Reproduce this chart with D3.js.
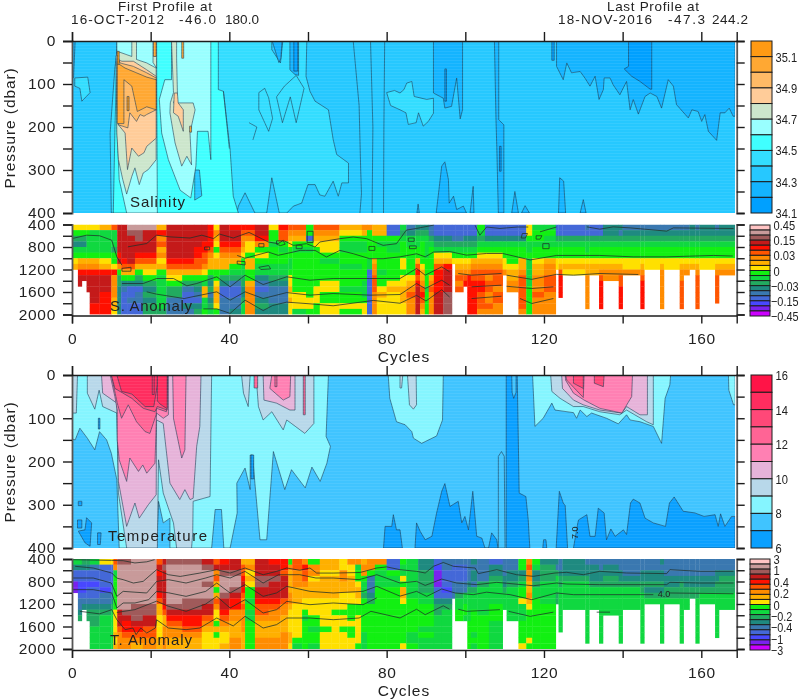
<!DOCTYPE html>
<html><head><meta charset="utf-8">
<script src="https://cdn.jsdelivr.net/npm/d3@7/dist/d3.min.js"></script>
<style>html,body{margin:0;background:#fff}svg{display:block;filter:blur(.35px)}text{font-family:"Liberation Sans",sans-serif;fill:#222}</style>
</head><body><svg id="c" width="800" height="700"></svg>
<script>
// ---- colour legends
const salColors=["#ff9a14","#ffa833","#ffba66","#ffcc99","#cce6cc","#99ffff","#40ffff","#33ddff","#26c8ff","#14b4ff","#00a0ff"];
const salLabels=[["35.1",1],["34.9",3],["34.7",5],["34.5",7],["34.3",9],["34.1",11]];
const tempColors=["#ff1447","#ff2d5f","#ff4878","#ff6495","#ff80b3","#e6b3d9","#b8d8ea","#85f5ff","#40c4ff","#0aa0ff"];
const tempLabels=[["16",0],["14",2],["12",4],["10",6],["8",8],["6",10]];
const anomColors=["#ffc4c4","#c89a9a","#a05a5a","#c41a1a","#ff1000","#ff5500","#ff8c00","#ffb000","#ffe000","#12f012","#10d840","#22aa60","#1f8a80","#3a78b0","#4468d8","#4848ff","#7a22ee","#cc00ff"];
const saLabels=[["0.45",0],["0.15",3],["0.03",6],["0",9],["\u22120.03",12],["\u22120.15",15],["\u22120.45",18]];
const taLabels=[["3",0],["1",2.25],["0.4",4.5],["0.2",6.75],["0",9],["\u22120.2",11.25],["\u22120.4",13.5],["\u22121",15.75],["\u22123",18]];

// ---- salinity contour regions: [colour index, [cycle, dbar] ...]
const salRegions=[
[7,[[11.5,0],[50.8,0],[50.8,20],[53,51],[53.6,0],[59.7,0],[59.5,82],[60.5,117],[61.8,140],[65.2,160],[66.4,229],[67.3,264],[70.3,284],[70.3,330],[68.6,330],[67.7,361],[66.4,326],[64.3,361],[63,358],[61.8,334],[60,334],[58.4,377],[56.3,384],[54.6,400],[52.7,400],[50.8,318],[49.5,400],[46.5,400],[44,353],[42.3,384],[41.9,400],[38.5,400],[37.6,377],[37.2,400],[10,400],[9.7,214],[10.9,63],[11.4,28]]],
[7,[[0.7,86],[4,84],[4.6,120],[2.5,140],[2,110],[0.7,105]]],
[7,[[83.4,121],[84.4,113],[85.1,98],[86.4,94],[87,129],[90.2,136],[91.9,133],[91.9,168],[90.6,187],[89.3,198],[88.1,167],[87.5,190],[85.5,194],[84.9,167],[83.4,160],[81,150],[80,120],[82,115]]],
[7,[[47.5,120],[49,110],[50,132],[51,180],[50,210],[49,190],[47.5,160]]],
[7,[[52,130],[53.5,190],[55.5,130],[57,190],[59,110],[57,80],[54,105]]],
[6,[[11.5,0],[37.2,0],[37.2,113],[38.5,117],[40.2,253],[41,361],[42.3,400],[10.5,400],[10.9,214]]],
[8,[[31.2,300],[32.4,300],[33,360],[31.2,370]]],
[5,[[11.4,0],[21.5,0],[21.7,400],[13.9,400],[12,322],[11.5,214]]],
[5,[[25.3,0],[35.3,0],[35.3,276],[34.6,210],[31.9,210],[31.5,291],[30.2,365],[27.5,347],[24.5,276],[22.8,214],[22.2,136],[23.6,90],[25.3,90]]],
[4,[[15.2,0],[16.4,0],[16.4,43],[19,51],[21.4,63],[21.4,276],[19.4,299],[18.1,307],[17.1,334],[16,295],[15.2,315],[13.9,356],[12.9,322],[11.8,276],[11.4,214],[11.2,36],[11.5,24],[15.2,36]]],
[4,[[20.6,0],[21.5,0],[21.5,63],[20.6,50]]],
[4,[[25.3,0],[26.6,0],[26.6,40],[26.8,121],[25.8,144],[30.8,144],[31.3,160],[30,214],[30.4,288],[29.2,268],[27.9,291],[26.2,237],[24.9,167],[25,144],[25.8,120]]],
[3,[[11.5,43],[12.7,47],[15.6,47],[19,67],[21.4,82],[21.4,226],[19,245],[18.3,260],[16.9,268],[15.2,249],[14.1,299],[13.5,214],[11.8,195],[11.4,136]]],
[3,[[26,121],[26.8,121],[27,144],[28.3,160],[28.3,210],[27,175],[25.8,167]]],
[2,[[11.5,32],[12.2,51],[15.6,59],[19,74],[21.4,86],[21.4,160],[19,171],[18.3,175],[17.3,171],[16.4,187],[14.7,167],[14.2,202],[11.8,195]]],
[1,[[11.5,51],[13.5,63],[19,84],[21.4,90],[21.4,160],[19,153],[16.6,164],[15.2,105],[13.2,90],[13.2,192],[11.5,192]]],
[1,[[27.9,0],[28.4,0],[28.4,40],[27.9,40]]],[1,[[20.7,0],[21.4,0],[21.4,36],[20.7,36]]],
[1,[[29.9,198],[30.4,198],[30.4,212],[29.9,212]]],
[0,[[14,129],[14.5,129],[14.5,162],[14,162]]],[0,[[11.5,24],[12,24],[12,54],[11.5,54]]],
[9,[[55.4,0],[57.6,0],[57.6,80],[56.7,78],[55.4,67]]],
[10,[[56.4,0],[57.4,0],[57.4,70],[56.4,70]]],
[9,[[50.9,0],[53.4,0],[53.1,40],[52.6,50]]],
[9,[[0,0],[0.8,0],[0.4,85],[0,85]]],
[9,[[123.2,0],[123.2,59],[124.9,90],[125.8,51],[127,74],[129.2,71],[130.4,86],[131.7,105],[133,82],[134,136],[135.1,113],[135.3,86],[136.8,86],[137.6,102],[139.3,125],[141,94],[141.9,160],[142.7,136],[144,170],[145.7,129],[147,121],[148.7,129],[149.9,156],[151.6,90],[152.9,105],[153.7,148],[156.7,179],[157.6,160],[159.2,164],[160.1,187],[160.9,171],[161.8,210],[163.9,231],[164.8,167],[166,167],[167.1,156],[168.1,175],[168.6,175],[168.6,0]]],
[10,[[141.5,0],[141.5,59],[140.4,65],[142.3,82],[144.4,94],[147,112],[147.4,112],[147.4,0]]],
[10,[[122,0],[122.6,0],[122.6,45],[122,45]]],
[9,[[91.9,0],[91.9,121],[94.4,133],[94.8,156],[96.5,152],[97.8,86],[98.7,181],[99.3,160],[99.3,0]]],
[10,[[94.8,65],[95.2,65],[95.2,140],[94.8,140]]],
[9,[[107.4,0],[107.8,183],[108,245],[108.4,400],[109.8,400],[109.8,195],[108.5,183],[108.5,0]]],
[10,[[108.7,245],[109.1,245],[109.1,303],[108.7,303]]],
[9,[[92.6,400],[93.4,338],[94,291],[94.8,281],[95.7,322],[95.9,377],[97,361],[97.8,392],[99.5,384],[100.3,400]]],
[9,[[87.7,400],[88,379],[88.3,400]]],[9,[[101.2,400],[102,338],[102.2,400]]],
[9,[[111.8,400],[112.6,350],[113.5,400]]],[9,[[114.3,400],[115.2,383],[116.3,400]]],
[9,[[123.7,400],[124,318],[125,326],[125.5,400]]],[9,[[129.2,400],[130,369],[130.7,400]]]
];
const salLines=[
[[71.5,0],[73,150],[73.4,300],[73.6,355],[73.2,400]],
[[75.9,0],[76.5,200],[76.3,400]],
[[79.5,0],[79.3,200],[79.2,400]],
[[38.5,117],[40,250]],[[45,190],[47,200],[46,230]]
];

// ---- temperature contour regions
const tempRegions=[
[7,[[0,0],[65.2,0],[64.6,142],[65.7,165],[64.8,204],[63.1,246],[61,213],[59.3,261],[55.8,219],[54.1,265],[51.2,177],[49.5,381],[47.8,381],[46.5,250],[45.9,185],[45.3,185],[45.3,265],[44,215],[41.9,250],[42,319],[40.2,400],[38.6,400],[38,311],[36.4,311],[35.5,400],[24.9,400],[24.9,331],[23.2,342],[22,292],[21.5,400],[12,400],[11.4,242],[10,181],[8.8,150],[7,131],[5.8,173],[3.9,146],[2,123],[0.8,150],[0,148]]],
[7,[[80.4,0],[80.8,54],[82.5,108],[83.4,111],[84.7,115],[86.4,131],[86.8,146],[88.9,158],[92.7,141],[94.2,104],[94.4,0]]],
[7,[[117.1,0],[117.7,119],[119.8,100],[122,65],[122.8,81],[127.5,87],[128.3,100],[129.2,81],[130.9,96],[132.1,88],[135.9,100],[138.9,113],[141,92],[141.9,104],[144.4,108],[147.8,119],[149.9,158],[150.8,54],[152,23],[152.2,0]]],
[7,[[166.9,0],[167,35],[168.2,69],[168.6,69],[168.6,0]]],
[6,[[0,0],[1.4,0],[1.1,88],[0,88]]],
[6,[[3.9,0],[35.5,0],[35.1,281],[30.8,292],[30.7,365],[30.4,400],[26.6,400],[25.8,342],[23.2,273],[22,196],[21.7,400],[13.9,400],[11.8,273],[11.4,88],[7.8,73],[6.9,35],[5.8,79],[3.9,42]]],
[6,[[43.1,0],[43.6,42],[44.8,73],[45.3,0]]],
[6,[[46.8,0],[47.4,73],[48.6,104],[50.8,85],[53.7,127],[54.6,104],[58,127],[59.2,135],[61.5,112],[61.5,0]]],
[6,[[85.3,0],[87.5,0],[87.6,69],[86.8,79],[85.8,69]]],[6,[[83.4,0],[84.1,0],[83.8,30],[83.4,30]]],
[6,[[121.7,0],[122,38],[124.1,54],[127.5,73],[130,73],[134.2,85],[139.3,92],[141,81],[146.1,108],[147.8,115],[147.8,0]]],
[5,[[7.5,0],[7.8,42],[11.4,65],[11.8,246],[13.9,350],[16,296],[17.1,331],[19.4,300],[21.4,277],[21.5,104],[23.2,112],[24.9,250],[27.4,288],[28.7,265],[30,288],[30.8,285],[31.7,165],[32.5,119],[32.8,0]]],
[5,[[48.6,0],[48.8,58],[52,65],[55.4,81],[56.7,81],[56.7,0]]],
[5,[[124.5,0],[124.7,31],[127.5,58],[130,69],[134.2,81],[139.8,88],[141,73],[144.4,92],[146.3,92],[146.3,0]]],
[4,[[9.7,0],[10.9,50],[11.5,81],[11.5,150],[12,196],[13.9,246],[14.7,192],[16.9,223],[18,208],[19,227],[21.1,204],[21.5,88],[23.2,100],[24.5,92],[24.5,0]]],
[4,[[25.6,0],[25.8,100],[27.9,192],[28.7,173],[29,0]]],
[4,[[50.8,0],[50.3,31],[53.7,58],[55.4,50],[55.6,0]]],
[4,[[125.4,0],[125.5,12],[127.5,42],[130.2,58],[134.2,77],[139.8,88],[142.3,50],[142.5,0]]],
[3,[[10,0],[11.5,65],[12.6,100],[14.3,69],[16.4,108],[18.6,131],[19.8,135],[21.4,92],[21.5,77],[24,85],[24.3,0]]],
[3,[[125.5,0],[125.8,12],[130,52],[130.2,0]]],
[3,[[46.3,0],[47.2,0],[47.2,30],[46.3,30]]],[3,[[51.6,0],[52.1,0],[52.1,27],[51.6,27]]],[3,[[58.8,0],[59.3,0],[59.3,92],[58.8,92]]],
[2,[[10,0],[10.9,31],[15.2,54],[18.1,77],[21.1,85],[21.7,73],[24.2,81],[24.3,0]]],
[2,[[127.5,0],[127.5,19],[130,31],[130,0]]],[2,[[132.8,0],[132.8,19],[135.1,27],[135.3,0]]],
[1,[[11.4,0],[12.6,38],[15.2,44],[18.6,73],[20.8,73],[21.7,23],[21.7,0]]],
[1,[[21.7,0],[24.2,0],[24.2,78],[22.5,68],[21.7,60]]],
[1,[[20.4,0],[20.9,0],[20.9,45],[20.4,45]]],
[9,[[110.4,0],[110.4,400],[116.4,400],[116,335],[115.4,281],[113.7,273],[113.2,0]]],
[8,[[111.8,0],[111.9,40],[112.3,54],[112.9,40],[112.9,0]]],
[9,[[87.2,400],[87.6,342],[88.5,361],[89.8,381],[91.5,373],[92.7,319],[94,269],[94.8,251],[96.1,304],[98.2,292],[99.1,342],[99.9,327],[100.8,358],[101.9,269],[102.9,373],[104.2,377],[105,400],[105.9,400],[106.7,365],[108,381],[108.3,400]]],
[8,[[108.4,400],[108.4,188],[109.2,177],[109.9,188],[110.1,400]]],
[9,[[119.7,400],[119.9,381],[120.5,381],[120.7,400]]],
[9,[[123.1,400],[123.9,269],[124.9,296],[125.4,302],[126,400]]],
[9,[[127.5,400],[128.6,342],[128.8,335],[130.9,323],[131.7,373],[133,373],[133.8,308],[135.3,319],[135.9,381],[137,356],[138.1,373],[140.2,358],[141,369],[142,296],[142.7,287],[144.4,296],[145.7,331],[147.8,342],[150.9,350],[151.9,296],[153.1,282],[155.4,315],[158.4,319],[160.7,327],[163.5,323],[164.3,350],[164.9,321],[166,350],[167.7,327],[168.6,327],[168.6,400]]],
[9,[[79.2,400],[79.6,350],[81.3,350],[81.7,323],[82.5,358],[83.4,358],[84,400]]],
[9,[[1.4,335],[2.5,335],[2.5,354],[1.4,354]]],
[9,[[3.7,330],[5,342],[4.6,396],[3.3,388],[1.6,361],[3.3,358]]],
[9,[[6.5,365],[7.4,365],[7.2,392],[6.5,392]]],
[9,[[1.6,292],[2.5,292],[2.5,302],[1.6,302]]],
[9,[[6.7,100],[7.1,100],[7.1,125],[6.7,125]]],[9,[[45.5,185],[46.2,185],[46.2,240],[45.5,240]]]
];

// ---- anomaly columns: [start cycle, profile from 400 dbar downward, one letter per 100 dbar; index into anomColors]
const saColumns=[
[0,"ijlmkjih"],[1.5,"ijlmkjhgedd"],[2.5,"ijlmkjhged"],[3.7,"ijkkkjhgeddd"],[4.5,"ikkkkjhgedddddee"],[7,"hkkkkjihedddeeee"],[10,"fkkkljjiegggghhi"],
[11.5,"dddddedgjllmmmmm"],[12.5,"ddddddefhjmnoooo"],[14,"bcdddddfhjmoonoo"],[16,"bccddefhjlmonnoo"],[18,"bddddefhijlmlmll"],[21.5,"hegfhgihjkkkkkkl"],
[24,"ddddddefhijllnnn"],[28,"ddddddefhjlnoomn"],[31,"ddddeeffhjlmnoml"],[33,"dddeeffgijkhhkkj"],[34.5,"eeeefghhjlmlnmlk"],[36,"ighijihhjjihhhij"],
[37.5,"dddefghhjlmoonnn"],[40,"eddefghjklnoonnm"],[43,"efgghijkkllmmlkk"],[44,"efgiijhhjjhggggg"],[46.5,"ddegjijkkmnonmlm"],[50,"ijjkjjjkklmnnnmm"],[52.5,"effjkjjkklmnnnmm"],
[55,"fghijjkkjiihihii"],[56,"fghjkjjjjjjjiiik"],[59.5,"jjojkjjjjjjjjiij"],[61.4,"fghijjjjjjjiiijj"],[63,"fghiijkjjjiijjii"],[68,"hijkkjjkjjjkjjij"],[73.7,"ghjkkjjjjjkkkjii"],
[75,"gjjjjjkkoooooooo"],[76.3,"hhjjjjhggfffgggg"],[77.5,"hhjkjjjjkjjihiii"],[80,"oojkkjjjjjihiiii"],[83.4,"klkjjjiijiihhhii"],[85,"nmkkjjjjjihgfggg"],[87.3,"mlkkjjhfefeddddd"],[88.5,"mlkjjjjihhgfefgh"],[89.7,"mlkkkkjjjjjkjjjj"],[90.7,"nnlkjjjjjhgfgggg"],
[92,"oomlkihfeeeedddd"],[94.4,"oomlkiheddddcccc"],[96.6,"oonlkji"],[97.4,"oonlkjihgfgf"],[99.5,"oomlkjihgfe"],[100.5,"oomlkjihgeeeeeee"],[101.4,"oomlkjhgffeeeeee"],[103,"jklkjihgffeefffg"],[105,"oomkjihgfgffggfg"],[107,"oomkjihgfffgffgg"],
[109.5,"oomkjjiig"],[110.5,"oomkjjjihhgg"],[113.5,"oomkjjhhgffffffg"],[115.5,"iijkkjkkkkkjjjjj"],[117,"kjjkjjihhgggfggg"],[120,"kjkkjjhggfffgggg"],[123,"oolkjjii"],[123.7,"oolkjjihfeeee"],[124.7,"oolkjjihi"],[130.5,"nolkkjihhgggggg"],[131.5,"oolkjjihh"],
[134,"oolkjjihgfeeeee"],[135,"mmlkjjihgg"],[139,"mnlkjjihgffeeee"],[140,"nmlkjjiig"],[144.5,"nmlkjjihgfeeeee"],[145.5,"nmlkjjii"],[149.5,"nmlkjjihggggggg"],[150.5,"nmlkjjii"],[154.5,"nmlkjjihggfffff"],[155.5,"nmlkjjihg"],[157,"mmlkjjih"],[158.5,"nmlkjjihgffffff"],[159.5,"mmlkjjii"],[163.5,"nmlkjjihgfffff"],[164.5,"mmlkjjihg"]
];
const taColumns=[
[0,"kmooqq"],[1.5,"kmoopponnml"],[2.5,"lmoopponm"],[3.7,"lmoopoonmll"],[4.5,"knoopoonmlllkkkk"],[7,"ioooopnnmlkkkkkk"],[10,"ioooonnmlkkkkkkk"],[10.5,"fgkjjjjjjiiiihih"],
[11.5,"cbbbbbbbbdddfggg"],[12.7,"cbbbbbbbbcdeefgg"],[15,"bbbbbbbbcccdefgh"],[18,"bbbbbbbbccddffgg"],[21.5,"fdedddefhhiiiihh"],[23,"dcddddddefhhgggg"],
[24,"cbbbbbbbcdefgghh"],[28,"cbbbbbbccdeefghh"],[33,"dcbbcbbcddfghiii"],[36,"fdgfhjhfgiijhjii"],[37.5,"edcbbbcddefghiih"],[40,"ddcbbcdeegghhhgg"],[43,"hffedefgfgggghhh"],[44,"hgihijjkjkkjjjjj"],
[46.5,"dddccddeffghhhgg"],[50,"eddcdddefgghhhgg"],[53,"eefddddfgghhhggg"],[55,"jghhhhgghiiiihhi"],[56,"ffggghhhiiiiiijk"],[58.5,"geffghhiijkjjjjj"],[60,"jggihhhiiijjkjjk"],[63,"hhihhhhiiiiijiii"],[66,"hhihhhhiijiiiiii"],[68,"iigghhiiijiijiii"],[70,"giihhhiijjjijjii"],[72,"gkjjihhijjiiiiij"],[73.5,"hggjkkljjjjjjkkk"],[75,"ggjnnnmljjjjjjjj"],[77,"gjkkkjjjjjjjjjjj"],[80,"oojkkjjjjjjjjjjj"],
[83.4,"jkkijhhijjjjjjji"],[85,"kkkkkkkjjjjjjkkj"],[88,"mmllllkkjjjjkjkk"],[92,"opqqqoomllkkkkkk"],[94,"nnooopomlkkkkkkk"],[96.6,"nooonnn"],[97.4,"nooonnlkkjj"],[99.5,"nooonnkkjjk"],[100.5,"nnnnmlkkkkkjjjjj"],[101.4,"mnmmnlkkkjjjjkjk"],[103,"nnnnlkkkkkjjjjjj"],[106,"ommlkkkkjjjkkkkk"],
[109.5,"nnnmmlkkk"],[110.5,"nnmmlkkkkkk"],[113.5,"jjmlkjjikkkjjjji"],[115.5,"gfgghhghijjjjjij"],[117,"jkmmlkkjjjjjjjjj"],[119,"mlllkkkkjjjjjjjj"],[123,"mnlkkkll"],[123.7,"nnmllkkkkkkkk"],[124.7,"mmmlkkkkk"],[130.5,"nmmlkkkkkkkkkkk"],[131.5,"nmmmlkkkk"],
[134,"nnmmlkkkkkkkkkk"],[135,"nmmllkkkkk"],[139,"nnmmlkkkkkkkkkk"],[140,"nnnmlkkkk"],[144.5,"nnmmllkkkkkkkkk"],[145.5,"nnmmlmlk"],[149.5,"mnmmlmlkkkkkkkk"],[150.5,"nnnmmllk"],[154.5,"nnnmlllkkkkkkkk"],[155.5,"nnnmmllkk"],[157,"nnnmmll"],[158.5,"nnnmmllkkkkkkkk"],[159.5,"nnnmmlkk"],[163.5,"nnmmllkkkkkkkk"],[164.5,"nnmlllkkk"]
];

// ---- contour lines over the anomaly panels
const saLines=[
[[0,650],[3.7,590],[7,600],[10.1,679],[11.4,975],[12.7,1123]],
[[14.2,797],[19,738],[21.5,590],[24.9,620],[30,640],[33,590],[36,650],[37.5,570],[41,640],[45,540],[49.9,711]],
[[49.9,711],[52.4,741],[53.7,682],[56.3,771],[59.6,741],[61.8,800],[63,711],[68.1,652],[71.5,622],[74.9,652],[79.1,771],[82.5,741],[85,500],[87.6,470],[92,410]],
[[42,950],[44,1000],[49.9,889],[52.4,948],[56.3,889],[58,860],[59.4,860],[61.8,860],[64.7,978],[68.1,860],[71.5,919],[75.7,1008],[79.1,1008],[83.4,975],[87.6,920],[89.8,975],[91.9,890],[96,880],[100.3,945],[105.4,915],[109.5,915],[116.5,1030],[123.2,950],[134.2,950],[142.7,975],[151.2,975],[163.1,950],[168,960]],
[[12.7,1449],[18.1,1449],[21.5,1360],[25.8,1360],[29.2,1490],[31.7,1449],[36.8,1330],[40.2,1508],[44,1301],[48.6,1467],[52,1390],[54.6,1330],[60.5,1390],[66.4,1360],[75.7,1360],[83.4,1360],[87.6,1182],[89.8,1301],[94,1153],[96,1241]],
[[98.2,1271],[101.6,1301],[109.2,1271]],[[110.5,1301],[116.9,1375],[123.2,1286],[127.5,1301],[134.2,1271],[144,1289]],
[[19,1597],[21.5,1638],[28.5,1716],[36.8,1597],[40.2,1745],[44,1597],[48.6,1716],[54.6,1610],[60.5,1656],[66.4,1627],[75.7,1656],[83.4,1645],[87.6,1449],[89.8,1538],[94,1390],[96,1479]],
[[101.6,1508],[109.2,1479]],[[110.5,1498],[116.9,1538],[122.4,1508]],
[[33.4,1900],[36.8,1900],[40.2,1980],[44,1745],[48.6,1930],[51,1840],[54.6,1780],[60.5,1810],[66.4,1845],[76.6,1750],[83.4,1800],[87.6,1660],[90,1760],[94,1560],[96,1690]],
[[101.6,1716],[109.2,1675]],[[113.9,1716],[116.9,1805],[122.4,1716]],
[[130.9,442],[134.2,483],[137.6,442],[141.9,460],[151.2,518],[152.9,460],[168.2,471]],
[[102.5,415],[103.7,590],[105.4,445],[108.8,470],[113.3,445],[116,445]],[[119,530],[123.2,445]],
[[52,690],[53.7,690],[54.2,750],[53,775],[52,750],[52,690]],[[47.5,740],[48.8,740],[48.8,800],[47.5,800],[47.5,740]],
[[57,770],[58.5,770],[58.5,830],[57,830],[57,770]],[[75.5,790],[77,790],[77,860],[75.5,860],[75.5,790]],
[[59.8,520],[61.3,520],[61.3,720],[59.8,720],[59.8,520]],[[85.5,640],[87,640],[87,700],[85.5,700],[85.5,640]],
[[85.8,780],[87.5,780],[87.5,830],[85.8,830],[85.8,780]],[[114.5,560],[115.8,560],[115.3,640],[114.2,640],[114.5,560]],
[[119.7,740],[121.3,740],[121.3,830],[119.7,830],[119.7,740]],[[118,600],[119.5,600],[119,660],[118,660],[118,600]],
[[33.7,800],[35,800],[35,850],[33.7,850],[33.7,800]],[[42,1050],[44,1060],[44,1120],[42,1100],[42,1050]],
[[47.5,1160],[50,1130],[50.5,1190],[48,1200],[47.5,1160]],[[12.7,1180],[15,1160],[15,1230],[12.7,1230],[12.7,1180]]
];
const taLines=[
[[0,412],[10,425],[13,430],[16,470],[19,450],[21,412]],
[[0.8,530],[5.4,560],[10.1,649],[11.4,740],[13,767],[15.6,827],[18.1,797],[21.5,590],[24.5,679],[27.5,710],[32.5,650],[36.8,590],[40.2,650],[44,560],[48.6,680],[52,620],[54.6,560],[57.9,600],[60.5,560],[62.2,650],[66.4,650],[73.2,640],[77.5,560],[80,540],[83.4,590],[87.6,619],[89.8,649],[91.9,530],[94.4,462],[97,530],[102.5,560],[103.3,660],[108,590],[113,679],[117.3,708],[122.8,649],[125.8,637],[130,679],[134.2,619],[141,649],[151.2,660],[152,590],[159.7,619],[168.2,619]],
[[0,738],[5.4,738],[10,827],[11.4,1064],[13,975],[16,990],[19,1004],[21.5,800],[24.5,767],[29,827],[34,738],[36.8,679],[40.2,738],[44,620],[48.6,827],[52.5,680],[57.9,679],[62,738],[66.4,738],[73,767],[77.5,679],[83.4,827],[87.6,797],[89.8,870],[94,757],[97.8,827],[102.9,856],[108,815],[117.3,875],[123.2,827],[125.8,845],[134.2,856],[151.2,856],[152,815],[159.7,827],[168.2,827]],
[[0,945],[5.4,945],[10.1,1004],[11.4,1271],[13,1182],[16,1182],[19.5,1123],[21.5,975],[24.5,1000],[29,1064],[34,975],[36.8,827],[40.2,1004],[44,856],[48.6,1064],[52,1004],[54.6,886],[60.5,975],[66.4,1004],[74,975],[77.5,886],[83.4,1060],[87.6,975],[90.2,1064],[94,933],[97.4,1004],[102,1034],[105.4,990],[111.4,1034],[116.9,1123],[123.2,1004],[127.5,1034],[147.8,1034]],
[[152,1004],[168.2,1018]],
[[11.4,1350],[16,1300],[21.5,1150],[24.5,1240],[29,1330],[34,1200],[36.8,1064],[40.2,1271],[44,1123],[48.6,1360],[52,1301],[54.6,1153],[60.5,1212],[66.4,1182],[74,1212],[77.5,1090]],
[[2,1330],[7,1375],[10.1,1301],[11.4,1479],[13.5,1656],[15.5,1627],[16.3,1745],[17.5,1627],[19,1716],[21.2,1627],[21.5,1480],[24.5,1627],[29,1656],[32.5,1627],[36.8,1449],[41,1590],[44,1419],[48.6,1627],[52,1567],[54.6,1449],[60.5,1449],[66.4,1479],[73,1449],[76,1330],[83.4,1449],[87.6,1293],[89.8,1390],[94.4,1232],[96,1293]],
[[98.2,1293],[100.3,1330],[108.8,1301]],[[111,1330],[116.5,1419],[122.4,1345]],[[133.4,1345],[136.8,1345]]
];

// ---- tick values
const xTicks=[0,20,40,60,80,100,120,140,160];
const xTickLabels=[0,40,80,120,160];
const shallowTicks=[0,50,100,150,200,250,300,350,400];
const shallowLabels=[0,100,200,300,400];
const deepTicks=[400,600,800,1000,1200,1400,1600,1800,2000];
const deepLabels=[400,800,1200,1600,2000];

const svg=d3.select("#c");
const x=d3.scaleLinear().domain([0,169]).range([72,736.7]);
const defs=svg.append("defs");
const ink="#1c1c1c";
const contourLine=d3.line().curve(d3.curveLinear);
const band=defs.append("pattern").attr("id","band").attr("patternUnits","userSpaceOnUse").attr("width",8).attr("height",3);
band.append("rect").attr("width",8).attr("height",1).attr("fill","#fff").attr("fill-opacity",.07);

function clip(id,y0,y1){defs.append("clipPath").attr("id",id).append("rect").attr("x",x(0)).attr("y",y0).attr("width",x(168.6)-x(0)).attr("height",y1-y0);}

function axes(y,yTicks,yLabels,top,bottom){
  const r=y.range();
  const left=svg.append("g").attr("transform",`translate(${x(0)},0)`)
    .call(d3.axisLeft(y).tickValues(yTicks).tickSize(9).tickFormat(d=>yLabels.includes(d)?d:""));
  const right=svg.append("g").attr("transform",`translate(${x(169)},0)`)
    .call(d3.axisRight(y).tickValues(yTicks).tickSize(8).tickFormat(""));
  [left,right].forEach(g=>{g.selectAll("path,line").attr("stroke",ink).attr("stroke-width",1.4);g.select("path").attr("stroke","#555").attr("stroke-width",1.8);
    g.selectAll("text").attr("font-size",15.5).attr("letter-spacing",.7).attr("x",-16).attr("fill","#222");});
  if(top){const g=svg.append("g").attr("transform",`translate(0,${r[0]})`)
    .call(d3.axisTop(x).tickValues(xTicks).tickSize(9).tickFormat(""));
    g.selectAll("path,line").attr("stroke",ink).attr("stroke-width",1.4);}
  if(bottom){const g=svg.append("g").attr("transform",`translate(0,${r[1]+1})`)
    .call(d3.axisBottom(x).tickValues(xTicks).tickSize(8).tickFormat(d=>xTickLabels.includes(d)?d:""));
    g.selectAll("path,line").attr("stroke",ink).attr("stroke-width",1.4);
    g.selectAll("text").attr("font-size",15.5).attr("letter-spacing",.6).attr("y",17).attr("fill","#222");
    svg.append("text").attr("x",404).attr("y",r[1]+47).attr("text-anchor","middle").attr("font-size",15.5).attr("letter-spacing",1).text("Cycles");}
}

function contourPanel(id,y,colors,bg,regions,lines){
  clip(id,y.range()[0],y.range()[1]);
  const g=svg.append("g").attr("clip-path",`url(#${id})`);
  g.append("rect").attr("x",x(0)).attr("y",y.range()[0]).attr("width",x(168.6)-x(0)).attr("height",y.range()[1]-y.range()[0]).attr("fill",colors[bg]);
  contourLine.x(d=>x(d[0])).y(d=>y(d[1]));
  g.selectAll("path.r").data(regions).join("path").attr("class","r")
    .attr("d",d=>contourLine(d[1])+"Z").attr("fill",d=>colors[d[0]])
    .attr("stroke","#1d3b52").attr("stroke-opacity",.65).attr("stroke-width",.9);
  g.selectAll("path.l").data(lines).join("path").attr("class","l").attr("d",contourLine).attr("fill","none")
    .attr("stroke","#1d3b52").attr("stroke-opacity",.65).attr("stroke-width",.9);
  g.append("rect").attr("x",x(0)).attr("y",y.range()[0]).attr("width",x(168.6)-x(0)).attr("height",y.range()[1]-y.range()[0]).attr("fill","url(#band)");
}

function heatPanel(id,y,columns,lines){
  clip(id,y.range()[0],y.range()[1]);
  const g=svg.append("g").attr("clip-path",`url(#${id})`);
  const cells=[];
  columns.forEach((c,i)=>{const end=i+1<columns.length?columns[i+1][0]:168.6;
    c[1].split("").forEach((ch,r)=>cells.push({s:c[0],e:end,r,k:ch.charCodeAt(0)-97}));});
  g.selectAll("rect").data(cells).join("rect")
    .attr("x",d=>x(d.s)).attr("width",d=>x(d.e)-x(d.s)+.3)
    .attr("y",d=>y(400+100*d.r)).attr("height",d=>y(500+100*d.r)-y(400+100*d.r)+.3)
    .attr("fill",d=>anomColors[d.k]);
  contourLine.x(d=>x(d[0])).y(d=>y(d[1]));
  g.selectAll("path").data(lines).join("path").attr("d",contourLine).attr("fill","none")
    .attr("stroke","#20302a").attr("stroke-width",.9).attr("stroke-opacity",.85);
}

function colorBar(y0,y1,colors,labels,bx,bw){
  const b=d3.scaleLinear().domain([0,colors.length]).range([y0,y1]);
  svg.append("g").selectAll("rect").data(colors).join("rect")
    .attr("x",bx).attr("width",bw).attr("y",(d,i)=>b(i)).attr("height",(d,i)=>b(i+1)-b(i))
    .attr("fill",d=>d).attr("stroke",ink).attr("stroke-width",1);
  const width=t=>t.split("").reduce((s,c)=>s+(c==="."?3:c==="\u2212"?6:6.2),0);
  svg.append("g").selectAll("text").data(labels).join("text")
    .attr("x",d=>bx+bw+(d[0][0]==="\u2212"?1:3.5)).attr("y",d=>b(d[1])+5).attr("font-size",13)
    .attr("textLength",d=>width(d[0])).attr("lengthAdjust","spacingAndGlyphs").text(d=>d[0]);
}
function label(t,xp,yp,w){svg.append("text").attr("x",xp).attr("y",yp).attr("font-size",15).attr("textLength",w).attr("lengthAdjust","spacing").attr("fill","#1a1a1a").text(t);}
function pressureLabel(cy){svg.append("text").attr("transform",`translate(15,${cy}) rotate(-90)`).attr("text-anchor","middle").attr("font-size",15.5).attr("letter-spacing",.9).attr("fill","#444").text("Pressure (dbar)");}

const y1=d3.scaleLinear().domain([0,400]).range([41,213]);
const y2=d3.scaleLinear().domain([400,2000]).range([224.5,314.5]);
const y3=d3.scaleLinear().domain([0,400]).range([375,548]);
const y4=d3.scaleLinear().domain([400,2000]).range([559,649]);

contourPanel("p1",y1,salColors,8,salRegions,salLines);
heatPanel("p2",y2,saColumns,saLines);
contourPanel("p3",y3,tempColors,8,tempRegions,[]);
heatPanel("p4",y4,taColumns,taLines);

axes(y1,shallowTicks,shallowLabels,true,false);
axes(y2,deepTicks,deepLabels,false,true);
axes(y3,shallowTicks,shallowLabels,true,false);
axes(y4,deepTicks,deepLabels,false,true);

colorBar(41,213,salColors,salLabels,751,21);
colorBar(225,316,anomColors,saLabels,750,20);
colorBar(375,548,tempColors,tempLabels,751,21);
colorBar(559,650,anomColors,taLabels,750,20);

label("Salinity",130,207,55);
label("S. Anomaly",110,311,82);
label("Temperature",108,541,99);
label("T. Anomaly",110,645,82);
svg.append("text").attr("x",x(150.5)).attr("y",y4(1080)).attr("font-size",9).attr("text-anchor","middle").text("4.0");
svg.append("text").attr("transform",`translate(${x(128.6)},${y3(365)}) rotate(-90)`).attr("font-size",9).attr("text-anchor","middle").text("7.0");

pressureLabel(128);pressureLabel(462);

function head(t,xp,yp,w){svg.append("text").attr("x",xp).attr("y",yp).attr("font-size",13.5).attr("textLength",w).attr("lengthAdjust","spacing").text(t);}
head("First Profile at",118,11,94);
head("16-OCT-2012",71,24,93);
head("-46.0",179,24,37);
head("180.0",225,24,34);
head("Last Profile at",607,11,92);
head("18-NOV-2016",558,24,94);
head("-47.3",668,24,37);
head("244.2",712,24,36);
</script></body></html>
